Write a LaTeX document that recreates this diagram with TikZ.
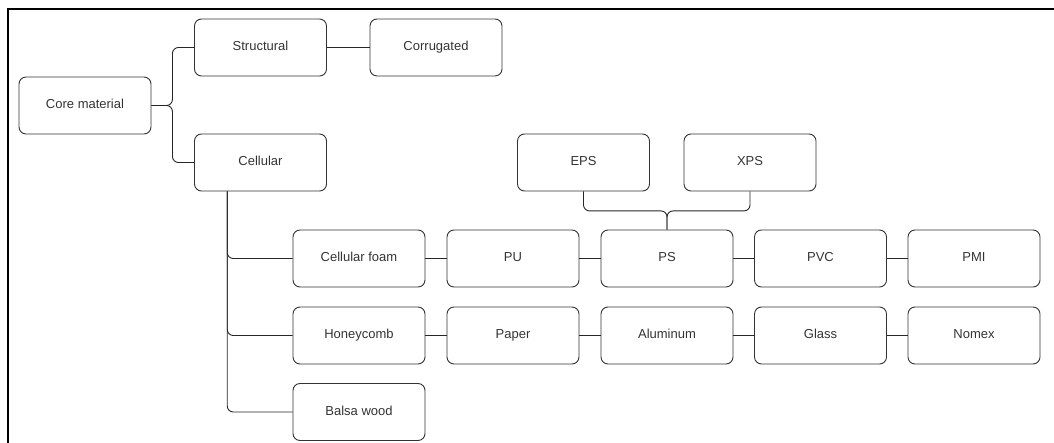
\documentclass[tikz,border=0pt]{standalone}
\usepackage{fontspec}
\setmainfont{Liberation Sans}
\usetikzlibrary{calc}
\begin{document}
\begin{tikzpicture}[x=1pt,y=-1pt,
  box/.style={draw=black!80, line width=0.9pt, rounded corners=7pt,
    minimum width=132pt, minimum height=57pt, inner sep=0pt,
    text height=9.4pt, text depth=2.8pt,
    font=\fontsize{13}{15}\selectfont, text=black!80},
  conn/.style={draw=black!85, line width=0.9pt, rounded corners=6pt},
  frameline/.style={draw=black, line width=1.3pt}]
\useasboundingbox (0,0) rectangle (1054,443);
\draw[frameline] (8,443) -- (8,9) -- (1054,9);

\node[box] (core)   at (85,105.5)  {Core material};
\node[box] (struct) at (260.5,47.5) {Structural};
\node[box] (corr)   at (436,47.5)  {Corrugated};
\node[box] (cell)   at (260.5,162.5) {Cellular};
\node[box] (eps)    at (583.5,162.5) {EPS};
\node[box] (xps)    at (750,162.5) {XPS};
\node[box] (foam)   at (359,258.5) {Cellular foam};
\node[box] (pu)     at (513,258.5) {PU};
\node[box] (ps)     at (667,258.5) {PS};
\node[box] (pvc)    at (820.5,258.5) {PVC};
\node[box] (pmi)    at (974,258.5) {PMI};
\node[box] (honey)  at (359,335.5) {Honeycomb};
\node[box] (paper)  at (513,335.5) {Paper};
\node[box] (alu)    at (667,335.5) {Aluminum};
\node[box] (glass)  at (820.5,335.5) {Glass};
\node[box] (nomex)  at (974,335.5) {Nomex};
\node[box] (balsa)  at (359,412)   {Balsa wood};

\draw[conn] (core.east) -- ++(21,0) |- (struct.west);
\draw[conn] (core.east) -- ++(21,0) |- (cell.west);
\draw[conn] (struct) -- (corr);

\coordinate (cq) at ($(cell.south west)!0.25!(cell.south east)$);
\draw[conn] (cq) |- (foam.west);
\draw[conn] (cq) |- (honey.west);
\draw[conn] (cq) |- (balsa.west);

\draw[conn] (foam) -- (pu);
\draw[conn] (pu) -- (ps);
\draw[conn] (ps) -- (pvc);
\draw[conn] (pvc) -- (pmi);

\draw[conn] (honey) -- (paper);
\draw[conn] (paper) -- (alu);
\draw[conn] (alu) -- (glass);
\draw[conn] (glass) -- (nomex);

\draw[conn] (eps.south) -- ++(0,19.5) -| (ps.north);
\draw[conn] (xps.south) -- ++(0,19.5) -| (ps.north);
\end{tikzpicture}
\end{document}
